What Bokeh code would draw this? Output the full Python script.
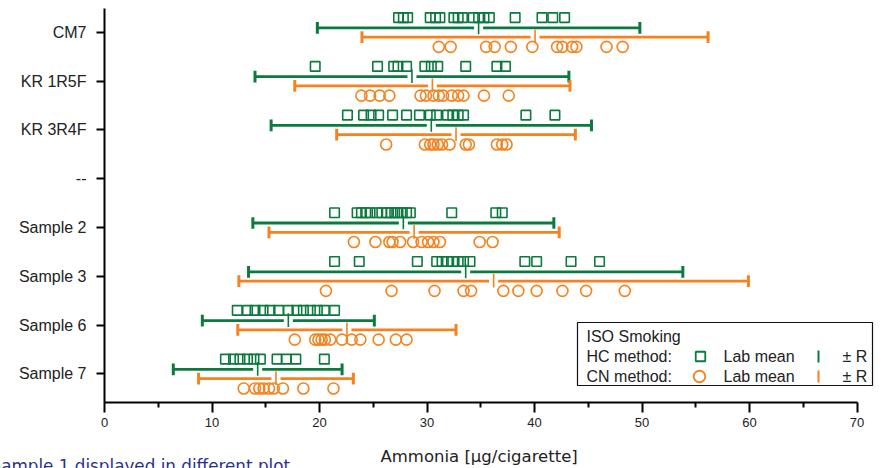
import numpy as np
from bokeh.plotting import figure
from bokeh.models import Range1d, FixedTicker, Label, Title
from bokeh.embed import file_html
from bokeh.resources import INLINE

# ---------------- data ----------------
categories = ["CM7", "KR 1R5F", "KR 3R4F", "--", "Sample 2", "Sample 3", "Sample 6", "Sample 7"]

hc_cm7 = [27.35, 27.8, 28.2, 30.3, 30.8, 31.2, 32.5, 32.9, 33.3, 34.3, 34.8, 35.3, 35.8, 38.2, 40.7, 41.7, 42.8]
cn_cm7 = [31.1, 32.2, 35.5, 36.3, 37.8, 39.8, 42.1, 42.6, 43.5, 43.9, 46.7, 48.2]
hc_kr1r5f = [19.6, 25.4, 26.9, 27.3, 28.1, 29.8, 30.4, 31.0, 33.6, 36.5, 37.3]
cn_kr1r5f = [23.9, 24.7, 25.6, 26.5, 29.4, 29.9, 30.6, 31.1, 31.5, 32.3, 32.9, 33.4, 35.3, 37.6]
hc_kr3r4f = [22.6, 24.1, 24.8, 25.5, 26.8, 28.1, 29.3, 30.3, 30.9, 31.9, 32.4, 32.9, 33.4, 39.2, 41.9]
cn_kr3r4f = [26.2, 29.8, 30.3, 30.6, 31.0, 31.4, 32.1, 33.6, 33.9, 36.5, 37.0, 37.4]
hc_sample2 = [21.4, 23.5, 23.9, 24.3, 24.7, 25.35, 25.8, 26.3, 26.65, 27.0, 27.3, 27.7, 28.1, 28.45, 32.3, 36.4, 37.0]
cn_sample2 = [23.2, 25.2, 26.5, 26.8, 27.5, 28.7, 29.5, 30.1, 30.6, 31.2, 34.9, 36.1]
hc_sample3 = [21.4, 23.7, 29.1, 30.9, 31.4, 31.9, 32.4, 32.9, 33.4, 34.0, 39.1, 40.2, 43.4, 46.05]
cn_sample3 = [20.6, 26.7, 30.7, 33.4, 34.1, 37.1, 38.5, 40.2, 42.6, 44.8, 48.4]
hc_sample6 = [12.35, 13.3, 14.0, 14.75, 15.4, 16.2, 17.1, 17.9, 18.5, 19.15, 19.8, 20.45, 21.4]
cn_sample6 = [17.7, 19.6, 19.9, 20.2, 20.5, 21.0, 22.1, 23.0, 23.8, 25.5, 27.1, 28.1]
hc_sample7 = [11.25, 12.0, 12.6, 13.3, 13.9, 14.5, 16.05, 16.9, 17.8, 20.45]
cn_sample7 = [12.95, 14.0, 14.4, 14.8, 15.3, 15.75, 16.6, 18.5, 21.3]

# lab mean and +/- R per category (None for the empty "--" row)
hc_mean = [34.8, 28.6, 30.4, None, 27.8, 33.6, 17.1, 14.25]
hc_r = [15.0, 14.6, 14.9, None, 14.0, 20.2, 8.0, 7.85]
cn_mean = [40.05, 30.5, 32.7, None, 28.8, 36.2, 22.55, 15.95]
cn_r = [16.1, 12.8, 11.1, None, 13.5, 23.7, 10.15, 7.2]

hc_points = [hc_cm7, hc_kr1r5f, hc_kr3r4f, [], hc_sample2, hc_sample3, hc_sample6, hc_sample7]
cn_points = [cn_cm7, cn_kr1r5f, cn_kr3r4f, [], cn_sample2, cn_sample3, cn_sample6, cn_sample7]

x_ticks = [0, 10, 20, 30, 40, 50, 60, 70]
x_minor = [5, 15, 25, 35, 45, 55, 65]

# ---------------- style ----------------
GREEN = "#0b7a3e"
ORANGE = "#f5821f"
TXT = "#222222"

X_MAX = 72.0
Y_TOP, Y_BOT = -0.486, 7.588
LEFT, TOP = 104, 8
FRAME_W, FRAME_H = 774, 394
OFF_SQ, OFF_HC, OFF_CN, OFF_CI = -0.30, -0.09, 0.10, 0.30

p = figure(width=882, height=468, output_backend="svg", toolbar_location=None,
           x_range=Range1d(0, X_MAX), y_range=Range1d(Y_BOT, Y_TOP),
           min_border_left=LEFT, min_border_right=882 - LEFT - FRAME_W,
           min_border_top=TOP, min_border_bottom=468 - TOP - FRAME_H)
p.outline_line_color = None
p.xgrid.visible = False
p.ygrid.visible = False
p.background_fill_color = "white"


# helpers: page pixel -> data coordinate (for legend placement)
def xpx(px):
    return (px - LEFT) / FRAME_W * X_MAX


def ypx(py):
    return Y_TOP + (py - TOP) / FRAME_H * (Y_BOT - Y_TOP)


# ---------------- range bars ----------------
def draw_range(means, rs, off, color):
    idx = [i for i, m in enumerate(means) if m is not None]
    m = np.array([means[i] for i in idx])
    r = np.array([rs[i] for i in idx])
    y = np.array(idx, dtype=float) + off
    p.segment(x0=m - r, x1=m + r, y0=y, y1=y, line_color=color, line_width=2.8)
    for ends in (m - r, m + r):
        p.segment(x0=ends, x1=ends, y0=y - 0.12, y1=y + 0.12, line_color=color, line_width=3)
    p.rect(x=m, y=y, width=9, height=6, width_units="screen", height_units="screen",
           fill_color="white", line_color=None)
    p.segment(x0=m, x1=m, y0=y - 0.15, y1=y + 0.13, line_color=color, line_width=1.6)


draw_range(hc_mean, hc_r, OFF_HC, GREEN)
draw_range(cn_mean, cn_r, OFF_CN, ORANGE)

# ---------------- individual lab values ----------------
hx, hy, cx, cy = [], [], [], []
for i in range(len(categories)):
    hx += hc_points[i]
    hy += [i + OFF_SQ] * len(hc_points[i])
    cx += cn_points[i]
    cy += [i + OFF_CI] * len(cn_points[i])

p.scatter(x=hx, y=hy, marker="square", size=9.5, fill_color=None, line_color=GREEN, line_width=1.6)
p.scatter(x=cx, y=cy, marker="circle", size=11, fill_color=None, line_color=ORANGE, line_width=1.6)

# ---------------- axes ----------------
p.xaxis.bounds = (0, 70)
p.xaxis.ticker = FixedTicker(ticks=x_ticks, minor_ticks=x_minor)
p.xaxis.axis_line_width = 2
p.xaxis.major_tick_line_width = 2
p.xaxis.minor_tick_line_width = 2
p.xaxis.major_tick_out = 10
p.xaxis.major_tick_in = 0
p.xaxis.minor_tick_out = 5
p.xaxis.minor_tick_in = 0
p.xaxis.major_label_text_font = "Liberation Sans"
p.xaxis.major_label_text_font_size = "13px"
p.xaxis.major_label_text_color = TXT
p.xaxis.major_label_standoff = 5

p.yaxis.ticker = FixedTicker(ticks=list(range(len(categories))))
p.yaxis.major_label_overrides = {i: c for i, c in enumerate(categories)}
p.yaxis.axis_line_width = 2
p.yaxis.major_tick_line_width = 2
p.yaxis.major_tick_out = 8
p.yaxis.major_tick_in = 0
p.yaxis.minor_tick_line_color = None
p.yaxis.major_label_text_font = "Liberation Sans"
p.yaxis.major_label_text_font_size = "16px"
p.yaxis.major_label_text_color = TXT
p.yaxis.major_label_standoff = 10

# axis title and footnote as titles in the bottom panel
p.add_layout(Title(text="Ammonia [µg/cigarette]", align="left", offset=380 - LEFT, standoff=-73,
                   text_font="DejaVu Sans", text_font_size="16.5px", text_font_style="normal",
                   text_color=TXT), "below")
p.add_layout(Title(text="Sample 1 displayed in different plot", align="left", offset=-10 - LEFT,
                   standoff=-92, text_font="DejaVu Sans", text_font_size="16.8px",
                   text_font_style="normal", text_color="#2d2f8f"), "below")

# ---------------- legend ----------------
p.quad(left=xpx(577), right=xpx(872), top=ypx(322), bottom=ypx(385),
       fill_color="white", line_color="#111111", line_width=1.2)


def leg_text(px, py, t):
    p.add_layout(Label(x=xpx(px), y=ypx(py), text=t, text_baseline="middle", text_align="left",
                       text_font="Liberation Sans", text_font_size="16px", text_color=TXT))


leg_text(586, 336, "ISO Smoking")
leg_text(586, 356, "HC method:")
leg_text(586, 376, "CN method:")
leg_text(723, 356, "Lab mean")
leg_text(723, 376, "Lab mean")
leg_text(842, 356, "± R")
leg_text(842, 376, "± R")
p.scatter(x=[xpx(700)], y=[ypx(356)], marker="square", size=9.5, fill_color=None,
          line_color=GREEN, line_width=1.8)
p.scatter(x=[xpx(699)], y=[ypx(376)], marker="circle", size=11.5, fill_color=None,
          line_color=ORANGE, line_width=1.8)
p.segment(x0=[xpx(818)], x1=[xpx(818)], y0=[ypx(350)], y1=[ypx(362)], line_color=GREEN, line_width=2)
p.segment(x0=[xpx(818)], x1=[xpx(818)], y0=[ypx(370)], y1=[ypx(382)], line_color=ORANGE, line_width=2)

open("out.html", "w").write(file_html(p, INLINE))
